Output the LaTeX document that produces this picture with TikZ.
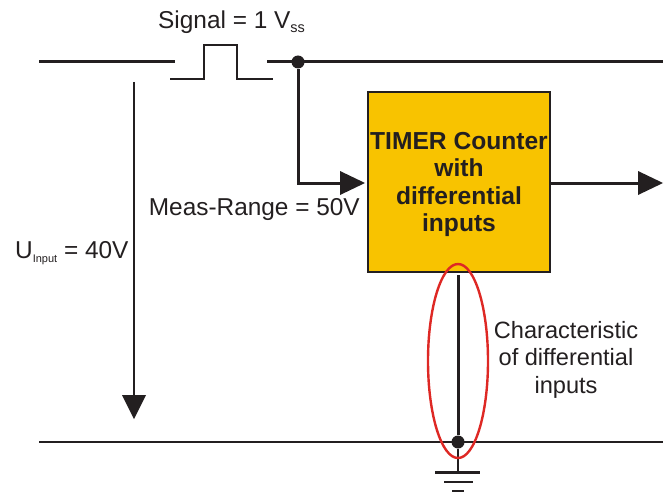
\documentclass[tikz,border=0pt]{standalone}
\usepackage{fontspec}
\setmainfont{Liberation Sans}
\usepackage{tikz}
\definecolor{timerfill}{RGB}{248,195,0}
\definecolor{wire}{RGB}{35,31,32}
\definecolor{marker}{RGB}{222,40,36}
\tikzset{
  thick wire/.style={draw=wire, line width=3pt},
  thin wire/.style={draw=wire, line width=2pt},
  big arrow/.style={fill=wire, draw=none},
  dot/.style={circle, fill=wire, inner sep=0pt, minimum size=13pt},
  label/.style={text=wire, font=\fontsize{24.4}{28}\selectfont, inner sep=0pt}
}
\begin{document}
\begin{tikzpicture}[x=1pt, y=-1pt]
        \useasboundingbox (0,0) rectangle (666,492);
        \coordinate (in) at (39,62);
        \coordinate (inEnd) at (175,62);
        \coordinate (pulseA) at (170,79);
        \coordinate (pulseB) at (273,79);
        \coordinate (split) at (267,62);
        \coordinate (outTop) at (663,62);
        \coordinate (turn) at (298,183);
        \coordinate (tipIn) at (365,183);
        \coordinate (tipOut) at (663,183);
        \coordinate (uTop) at (134,82);
        \coordinate (uTip) at (134,419);
        \coordinate (gndL) at (39,442);
        \coordinate (gndR) at (663,442);
        \node [draw=wire, line width=2pt, fill=timerfill, minimum width=182pt, minimum height=180pt,
          inner sep=0pt, align=center, label, font=\fontsize{24.6}{27.5}\selectfont\bfseries] (timer) at (459,182)
          {\rule{0pt}{22pt}TIMER Counter\\with\\differential\\inputs};
        \coordinate (stub) at (458,275);
        \node [dot] (top) at (298,62) {};
        \node [dot] (bot) at (458,442) {};
        \coordinate (earth) at (458,472);
        \draw [thick wire] (in) -- (inEnd);
        \draw [thick wire] (split) -- (outTop);
        \draw [thin wire] (pulseA) -- (204,79) -- (204,45) -- (237,45) -- (237,79) -- (pulseB);
        \draw [thick wire] (top) -- (turn) -- (342,183);
        \fill [big arrow] (tipIn) -- (340,171) -- (340,195) -- cycle;
        \draw [thick wire] (timer.east |- tipOut) -- (640,183);
        \fill [big arrow] (tipOut) -- (638,171) -- (638,195) -- cycle;
        \draw [thin wire] (uTop) -- (134,397);
        \fill [big arrow] (uTip) -- (122,395) -- (146,395) -- cycle;
        \draw [thin wire] (gndL) -- (gndR);
        \draw [thick wire] (stub) -- (bot);
        \draw [thin wire] (bot) -- (earth);
        \draw [draw=wire, line width=3pt] (435,472) -- (480,472);
        \draw [draw=wire, line width=2.4pt] (444,482) -- (473,482);
        \draw [draw=wire, line width=2pt] (452,491) -- (464,491);
        \draw [draw=marker, line width=2.4pt] (458,361) ellipse [x radius=30, y radius=97];
        \node [label, anchor=base west] (signal) at (158,29) {Signal = 1 V\raisebox{-4pt}{\fontsize{14.5}{16}\selectfont ss}};
        \node [label, anchor=base east] (range) at (360,215) {Meas-Range = 50V};
        \node [label, anchor=base west] (uinput) at (15,258) {U\raisebox{-4pt}{\fontsize{11}{12}\selectfont Input} = 40V};
        \node [label, align=center, anchor=north, font=\fontsize{23.6}{27.6}\selectfont] (note) at (566,321) {Characteristic\\of differential\\inputs};
      \end{tikzpicture}
\end{document}
